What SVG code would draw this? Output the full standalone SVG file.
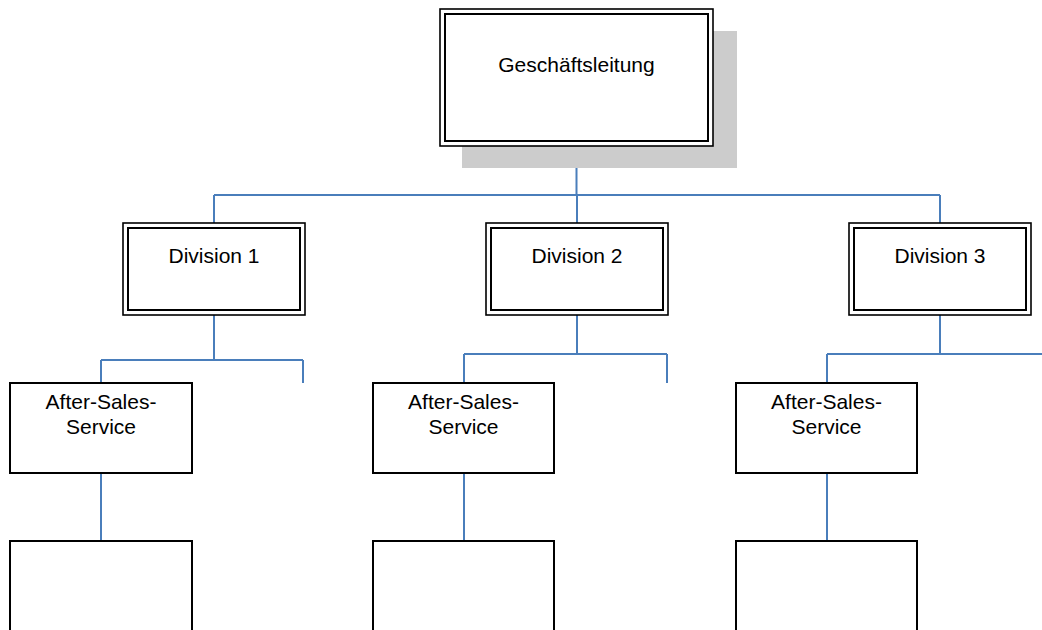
<svg xmlns="http://www.w3.org/2000/svg" width="1042" height="630" viewBox="0 0 1042 630">
<style>
.dbl-o{fill:#fff;stroke:#000;stroke-width:1.6}
.dbl-i{fill:none;stroke:#000;stroke-width:2}
.box{fill:#fff;stroke:#000;stroke-width:2}
.shadow{fill:#cccccc}
.lbl{font-family:"Liberation Sans",Arial,sans-serif;font-size:21px;fill:#000;text-anchor:middle}
.conn{fill:none;stroke:#4a7ebb;stroke-width:2}
</style>
<rect width="1042" height="630" fill="#fff"/>
<g id="connectors">
<path class="conn" d="M576.5 146V195M214 195H940M214 195V223M577 195V223M940 195V223"/>
<path class="conn" d="M214 315V360M101 360H303M101 360V383M303 360V383"/>
<path class="conn" d="M577 315V354M464 354H667M464 354V383M667 354V383"/>
<path class="conn" d="M940 315V354M827 354H1042M827 354V383"/>
<path class="conn" d="M101 473V541M464 473V541M827 473V541"/>
</g>
<g id="geschaeftsleitung">
<rect class="shadow" x="462" y="31" width="275" height="137"/>
<rect class="dbl-o" x="440" y="9" width="273" height="137"/>
<rect class="dbl-i" x="445" y="14" width="263" height="127"/>
<text class="lbl" x="576.5" y="72">Geschäftsleitung</text>
</g>
<g id="division1">
<rect class="dbl-o" x="123" y="223" width="182" height="92"/>
<rect class="dbl-i" x="128" y="228" width="172" height="82"/>
<text class="lbl" x="214" y="263">Division 1</text>
</g>
<g id="division2">
<rect class="dbl-o" x="486" y="223" width="182" height="92"/>
<rect class="dbl-i" x="491" y="228" width="172" height="82"/>
<text class="lbl" x="577" y="263">Division 2</text>
</g>
<g id="division3">
<rect class="dbl-o" x="849" y="223" width="182" height="92"/>
<rect class="dbl-i" x="854" y="228" width="172" height="82"/>
<text class="lbl" x="940" y="263">Division 3</text>
</g>
<g id="ass1">
<rect class="box" x="10" y="383" width="182" height="90"/>
<text class="lbl" x="101" y="409">After-Sales-</text>
<text class="lbl" x="101" y="434">Service</text>
</g>
<g id="ass2">
<rect class="box" x="373" y="383" width="181" height="90"/>
<text class="lbl" x="463.5" y="409">After-Sales-</text>
<text class="lbl" x="463.5" y="434">Service</text>
</g>
<g id="ass3">
<rect class="box" x="736" y="383" width="181" height="90"/>
<text class="lbl" x="826.5" y="409">After-Sales-</text>
<text class="lbl" x="826.5" y="434">Service</text>
</g>
<g id="unit1"><rect class="box" x="10" y="541" width="182" height="100"/></g>
<g id="unit2"><rect class="box" x="373" y="541" width="181" height="100"/></g>
<g id="unit3"><rect class="box" x="736" y="541" width="181" height="100"/></g>
</svg>
